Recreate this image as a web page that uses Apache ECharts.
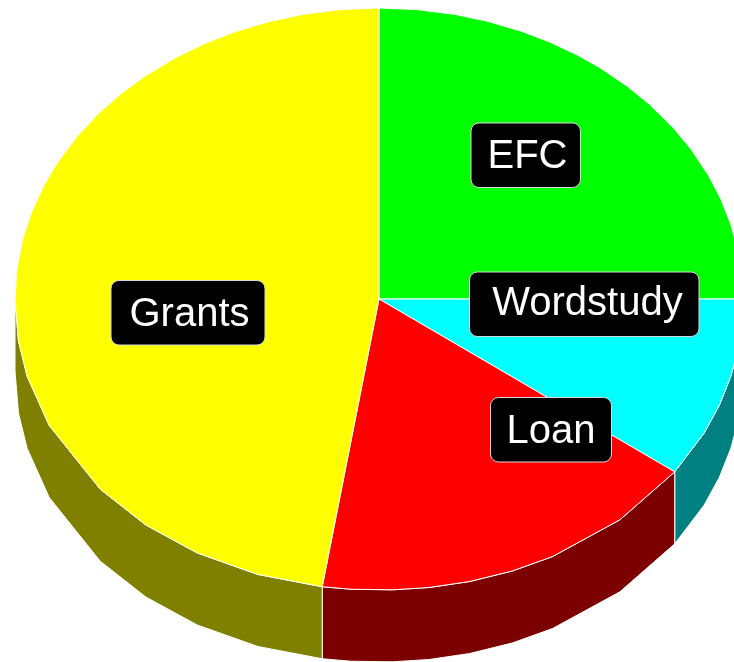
<!DOCTYPE html>
<html>
<head>
<meta charset="utf-8">
<style>html,body{margin:0;padding:0;background:#fff;overflow:hidden}#c{width:734px;height:662px}</style>
<script src="https://cdn.jsdelivr.net/npm/echarts@6/dist/echarts.min.js"></script>
</head>
<body>
<div id="c"></div>
<script>
const categories = ['EFC', 'Wordstudy', 'Loan', 'Grants'];
const values = [25, 10, 17.4, 47.6];
const topColors = ['#00ff00', '#00ffff', '#ff0000', '#ffff00'];
const wallColors = ['#008000', '#008080', '#7d0000', '#808000'];

// Layout of the tilted pie and of the label plates (separate from the data)
const CX = 379, CY = 299, RX = 364, RY = 291, DEPTH = 72, FRONT_ROUNDNESS = 0.98;
// Rim facets of the original drawing: polygon corners, in degrees clockwise from 3 o'clock
const rimCorners = [-84, -78, -72.7, -67, -62, -57, -52.6, -47, -42, -36, -31, -25, -20, -15, -10, -5, 0, 5, 10, 15, 21, 27,
  49, 62, 69, 76, 82.4, 88, 94.2, 109, 119.5, 129.4, 139.6, 154.7, 165, 172, 180, 186, 192, 197.2, 203, 208, 214, 219.7,
  225, 230, 236, 241.5, 247, 252.6, 258, 264];
const plates = [
  {x: 471, y: 123, w: 109.5, h: 64.5, tx: 527.5, ty: 156.5},
  {x: 469.5, y: 272, w: 229.5, h: 64.5, tx: 587.5, ty: 304},
  {x: 490.5, y: 397.5, w: 121, h: 64.5, tx: 551, ty: 432},
  {x: 111, y: 280.5, w: 154, h: 64.5, tx: 189.5, ty: 315}
];

const total = values.reduce((a, b) => a + b, 0);
const starts = [];
values.reduce((acc, v, i) => { starts[i] = acc; return acc + v; }, 0);
const angleOf = v => -90 + v / total * 360;
const pt = (deg, dz) => {
  const r = deg * Math.PI / 180;
  const c = Math.cos(r), s = Math.sin(r);
  const e = s > 0 ? FRONT_ROUNDNESS : 1;
  return [CX + RX * Math.sign(c) * Math.pow(Math.abs(c), e),
          CY + RY * Math.sign(s) * Math.pow(Math.abs(s), e) + (dz || 0)];
};
const arc = (a, b, dz) => {
  const inner = rimCorners.filter(d => d > a + 0.01 && d < b - 0.01);
  return [a].concat(inner, [b]).map(d => pt(d, dz));
};

function renderTop(params, api) {
  const i = params.dataIndex;
  const a = angleOf(starts[i]), b = angleOf(starts[i] + api.value(0));
  return {
    type: 'polygon',
    shape: {points: [[CX, CY]].concat(arc(a, b, 0))},
    style: {fill: topColors[i], stroke: '#ffffff', lineWidth: 1}
  };
}
function renderWall(params, api) {
  const i = params.dataIndex;
  const a = Math.max(angleOf(starts[i]), 0);
  const b = Math.min(angleOf(starts[i] + api.value(0)), 180);
  if (b <= a) return null;
  return {
    type: 'polygon',
    shape: {points: arc(a, b, 0).concat(arc(a, b, DEPTH).reverse())},
    style: {fill: wallColors[i], stroke: '#ffffff', lineWidth: 1}
  };
}
function renderLabel(params) {
  const i = params.dataIndex, p = plates[i];
  return {
    type: 'group',
    children: [
      {type: 'rect', shape: {x: p.x, y: p.y, width: p.w, height: p.h, r: 8},
       style: {fill: '#000000', stroke: '#d8d8d8', lineWidth: 1}},
      {type: 'text', style: {text: categories[i], x: p.tx, y: p.ty, fill: '#ffffff',
        font: '40px "Liberation Sans", Arial, sans-serif', align: 'center', verticalAlign: 'middle'}}
    ]
  };
}

const data = values.map(v => [v]);
const chart = echarts.init(document.getElementById('c'), null, {renderer: 'canvas'});
chart.setOption({
  animation: false,
  backgroundColor: '#ffffff',
  series: [
    {type: 'custom', coordinateSystem: 'none', silent: true, z: 1, data: data, renderItem: renderWall},
    {type: 'custom', coordinateSystem: 'none', silent: true, z: 2, data: data, renderItem: renderTop},
    {type: 'custom', coordinateSystem: 'none', silent: true, z: 3, data: data, renderItem: renderLabel}
  ]
});
</script>
</body>
</html>
